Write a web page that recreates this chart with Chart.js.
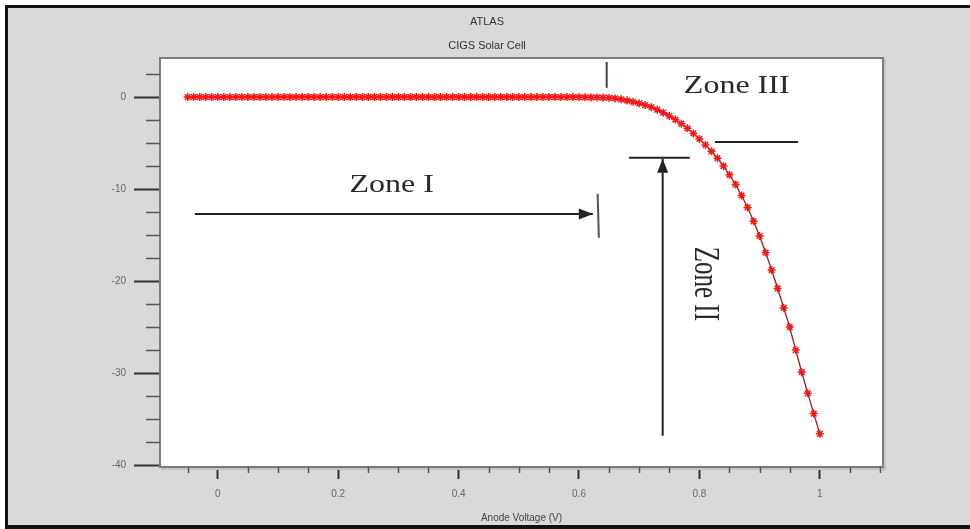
<!DOCTYPE html>
<html>
<head>
<meta charset="utf-8">
<title>ATLAS - CIGS Solar Cell</title>
<script src="https://cdn.jsdelivr.net/npm/chart.js@4.4.0/dist/chart.umd.min.js"></script>
<style>
  html, body { margin: 0; padding: 0; background: #fff; overflow: hidden; }
  #frame {
    position: absolute; left: 5px; top: 5px; width: 970px; height: 524px;
    box-sizing: border-box; background: #d9d9d9;
    border-left: 3px solid #111; border-top: 3px solid #111; border-bottom: 4px solid #111;
  }
  #wrap { position: absolute; left: 0; top: 0; width: 970px; height: 529px; }
</style>
</head>
<body>
<div id="frame"></div>
<div id="wrap"><canvas id="ivChart" width="970" height="529"></canvas></div>
<script>
// titulos
const titleLines = ['ATLAS', 'CIGS Solar Cell'];
const xTitle = 'Anode Voltage (V)';

// ticks
const xTickValues = [0, 0.2, 0.4, 0.6, 0.8, 1];
const xTickLabels = ['0', '0.2', '0.4', '0.6', '0.8', '1'];
const yTickValues = [0, -10, -20, -30, -40];
const yTickLabels = ['0', '-10', '-20', '-30', '-40'];

// curva I-V
const voltage = [
  -0.05, -0.04, -0.03, -0.02, -0.01,
  0.00, 0.01, 0.02, 0.03, 0.04, 0.05, 0.06, 0.07, 0.08, 0.09,
  0.10, 0.11, 0.12, 0.13, 0.14, 0.15, 0.16, 0.17, 0.18, 0.19,
  0.20, 0.21, 0.22, 0.23, 0.24, 0.25, 0.26, 0.27, 0.28, 0.29,
  0.30, 0.31, 0.32, 0.33, 0.34, 0.35, 0.36, 0.37, 0.38, 0.39,
  0.40, 0.41, 0.42, 0.43, 0.44, 0.45, 0.46, 0.47, 0.48, 0.49,
  0.50, 0.51, 0.52, 0.53, 0.54, 0.55, 0.56, 0.57, 0.58, 0.59,
  0.60, 0.61, 0.62, 0.63, 0.64, 0.65, 0.66, 0.67, 0.68, 0.69,
  0.70, 0.71, 0.72, 0.73, 0.74, 0.75, 0.76, 0.77, 0.78, 0.79,
  0.80, 0.81, 0.82, 0.83, 0.84, 0.85, 0.86, 0.87, 0.88, 0.89,
  0.90, 0.91, 0.92, 0.93, 0.94, 0.95, 0.96, 0.97, 0.98, 0.99,
  1.00
];
const current = [
  0, 0, 0, 0, 0,
  0, 0, 0, 0, 0, 0, 0, 0, 0, 0,
  0, 0, 0, 0, 0, 0, 0, 0, 0, 0,
  0, 0, 0, 0, 0, 0, 0, 0, 0, 0,
  0, 0, 0, 0, 0, 0, 0, 0, 0, 0,
  0, 0, 0, 0, 0, 0, 0, 0, 0, 0,
  0, 0, -0.01, -0.01, -0.01, -0.01, -0.01, -0.01, -0.01, -0.01,
  -0.02, -0.03, -0.04, -0.05, -0.07, -0.1, -0.15, -0.25, -0.38, -0.52,
  -0.68, -0.87, -1.1, -1.38, -1.7, -2.05, -2.45, -2.9, -3.4, -3.95,
  -4.55, -5.2, -5.9, -6.65, -7.5, -8.45, -9.5, -10.7, -12.0, -13.5,
  -15.1, -16.9, -18.8, -20.8, -22.9, -25.0, -27.5, -29.9, -32.2, -34.4,
  -36.6
];

// anotacoes das zonas (coordenadas em V / A)
const zoneLines = [
  { x1: -0.038, y1: -12.7, x2: 0.623, y2: -12.7, arrow: true },
  { x1: 0.631, y1: -10.5, x2: 0.633, y2: -15.3, color: '#555' },
  { x1: 0.646, y1: 3.8, x2: 0.646, y2: 1.0, color: '#444' },
  { x1: 0.826, y1: -4.9, x2: 0.964, y2: -4.9 },
  { x1: 0.683, y1: -6.6, x2: 0.784, y2: -6.6 },
  { x1: 0.739, y1: -36.8, x2: 0.739, y2: -6.7, arrow: true }
];
const zoneTexts = [
  { text: 'Zone I', x: 0.289, y: -9.6, rotate: false },
  { text: 'Zone III', x: 0.862, y: 1.1, rotate: false },
  { text: 'Zone II', x: 0.809, y: -20.3, rotate: true }
];

const pontos = voltage.map((v, i) => ({ x: v, y: current[i] }));

const zonasPlugin = {
  id: 'zonas',
  beforeDraw(chart) {
    const { ctx, chartArea: a } = chart;
    ctx.save();
    ctx.fillStyle = '#ffffff';
    ctx.fillRect(a.left, a.top, a.right - a.left, a.bottom - a.top);
    ctx.restore();
  },
  afterDraw(chart) {
    const { ctx, chartArea: a } = chart;
    const sx = chart.scales.x, sy = chart.scales.y;
    ctx.save();

    // moldura do grafico
    ctx.strokeStyle = '#c4c4c4';
    ctx.lineWidth = 2;
    ctx.beginPath();
    ctx.moveTo(a.right + 2, a.top + 1);
    ctx.lineTo(a.right + 2, a.bottom + 2);
    ctx.lineTo(a.left + 1, a.bottom + 2);
    ctx.stroke();
    ctx.strokeStyle = '#7c7c7c';
    ctx.lineWidth = 2;
    ctx.strokeRect(a.left, a.top, a.right - a.left, a.bottom - a.top);

    // ticks menores
    ctx.strokeStyle = '#555';
    ctx.lineWidth = 1.5;
    for (let k = -16; k <= 1; k++) {
      if (k % 4 === 0) continue;
      const py = Math.round(sy.getPixelForValue(k * 2.5)) + 0.5;
      ctx.beginPath();
      ctx.moveTo(a.left - 14, py);
      ctx.lineTo(a.left, py);
      ctx.stroke();
    }
    for (let k = -1; k <= 22; k++) {
      if (k % 4 === 0) continue;
      const px = Math.round(sx.getPixelForValue(k * 0.05)) + 0.5;
      ctx.beginPath();
      ctx.moveTo(px, a.bottom);
      ctx.lineTo(px, a.bottom + 6);
      ctx.stroke();
    }

    // titulos
    ctx.fillStyle = '#333';
    ctx.font = '11px Arial, "Liberation Sans"';
    ctx.textAlign = 'center';
    ctx.textBaseline = 'middle';
    ctx.fillText(titleLines[0], 487, 22);
    ctx.fillText(titleLines[1], 487, 46);

    // linhas e setas das zonas
    zoneLines.forEach(l => {
      const x1 = sx.getPixelForValue(l.x1), y1 = sy.getPixelForValue(l.y1);
      const x2 = sx.getPixelForValue(l.x2), y2 = sy.getPixelForValue(l.y2);
      ctx.strokeStyle = l.color || '#222';
      ctx.fillStyle = l.color || '#222';
      ctx.lineWidth = 2;
      ctx.beginPath();
      ctx.moveTo(x1, y1);
      ctx.lineTo(x2, y2);
      ctx.stroke();
      if (l.arrow) {
        const ang = Math.atan2(y2 - y1, x2 - x1);
        ctx.save();
        ctx.translate(x2, y2);
        ctx.rotate(ang);
        ctx.beginPath();
        ctx.moveTo(0, 0);
        ctx.lineTo(-14, -5.5);
        ctx.lineTo(-14, 5.5);
        ctx.closePath();
        ctx.fill();
        ctx.restore();
      }
    });

    // textos das zonas
    ctx.fillStyle = '#2a2a2a';
    ctx.font = '25px "Liberation Serif", "Times New Roman", serif';
    zoneTexts.forEach(t => {
      const px = sx.getPixelForValue(t.x), py = sy.getPixelForValue(t.y);
      ctx.save();
      ctx.translate(px, py);
      if (t.rotate) {
        ctx.scale(1.45, 1);
        ctx.rotate(Math.PI / 2);
      } else {
        ctx.scale(1.28, 1);
      }
      ctx.fillText(t.text, 0, 0);
      ctx.restore();
    });

    ctx.restore();
  }
};

new Chart(document.getElementById('ivChart'), {
  type: 'scatter',
  data: {
    datasets: [{
      label: 'CIGS',
      data: pontos,
      showLine: true,
      borderColor: '#a81818',
      borderWidth: 1.3,
      pointStyle: 'star',
      pointRadius: 4,
      pointBorderWidth: 1.5,
      pointBorderColor: '#ff1414',
      pointBackgroundColor: '#ff1414'
    }]
  },
  options: {
    responsive: false,
    animation: false,
    devicePixelRatio: 1,
    layout: { padding: { left: 0, top: 58, right: 87, bottom: 0 } },
    plugins: {
      legend: { display: false },
      tooltip: { enabled: false }
    },
    scales: {
      x: {
        type: 'linear',
        min: -0.096,
        max: 1.105,
        afterBuildTicks: s => { s.ticks = xTickValues.map(v => ({ value: v })); },
        afterFit: s => { s.height = 62; },
        ticks: {
          callback: (v, i) => xTickLabels[i],
          color: '#666',
          font: { family: 'Arial, "Liberation Sans"', size: 10 },
          padding: 9,
          maxRotation: 0,
          autoSkip: false
        },
        grid: { drawOnChartArea: false, tickLength: 12, tickColor: '#333', tickWidth: 2 },
        border: { display: true, color: '#7c7c7c', width: 2 },
        title: {
          display: true,
          text: xTitle,
          color: '#444',
          font: { family: 'Arial, "Liberation Sans"', size: 10 },
          padding: { top: 0, bottom: 5 }
        }
      },
      y: {
        type: 'linear',
        min: -40.2,
        max: 4.24,
        afterBuildTicks: s => { s.ticks = yTickValues.map(v => ({ value: v })); },
        afterFit: s => { s.width = 160; },
        ticks: {
          callback: (v, i) => yTickLabels[i],
          color: '#666',
          font: { family: 'Arial, "Liberation Sans"', size: 10 },
          padding: 8
        },
        grid: { drawOnChartArea: false, tickLength: 26, tickColor: '#333', tickWidth: 2 },
        border: { display: true, color: '#7c7c7c', width: 2 }
      }
    }
  },
  plugins: [zonasPlugin]
});
</script>
</body>
</html>
